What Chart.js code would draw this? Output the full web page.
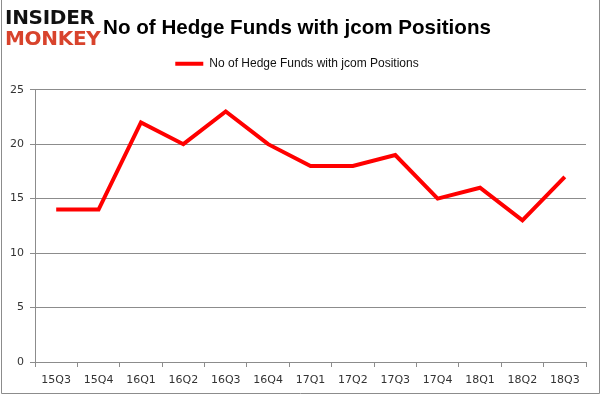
<!DOCTYPE html>
<html>
<head>
<meta charset="utf-8">
<script src="https://cdn.jsdelivr.net/npm/chart.js@4"></script>
<style>
  html, body { margin: 0; padding: 0; background: #fff; }
  #wrap { position: relative; width: 601px; height: 395px; }
  #logo { position: absolute; left: 5px; top: 7px; font-family: "DejaVu Sans", sans-serif; font-weight: 900; line-height: 21px; font-size: 20px; letter-spacing: -0.3px; }
  #logo .a { color: #111; }
  #logo .b { color: #d8432c; }
</style>
</head>
<body>
<div id="wrap">
  <canvas id="chart" width="601" height="395"></canvas>
  <div id="logo"><div class="a">INSIDER</div><div class="b">MONKEY</div></div>
</div>
<script>
const QUARTERS = ['15Q3','15Q4','16Q1','16Q2','16Q3','16Q4','17Q1','17Q2','17Q3','17Q4','18Q1','18Q2','18Q3'];
const FUNDS    = [14, 14, 22, 20, 23, 20, 18, 18, 19, 15, 16, 13, 17];
const Y_TICKS  = [0, 5, 10, 15, 20, 25];
const TITLE    = 'No of Hedge Funds with jcom Positions';

const GRID = '#8c8c8c';
const TICK = '#333';

/* ── frame round the picture, extra room under the legend ── */
const frame = {
  id: 'frame',
  beforeInit(c) {
    const fit = c.legend.fit;
    c.legend.fit = function () { fit.call(this); this.height += 10; };
  },
  afterDraw(c) {
    const ctx = c.ctx;
    ctx.save();
    ctx.strokeStyle = '#8c8c8c';
    ctx.lineWidth = 1;
    ctx.beginPath();
    ctx.moveTo(1.5, 0); ctx.lineTo(1.5, 393.5); ctx.lineTo(599.5, 393.5); ctx.lineTo(599.5, 0);
    ctx.stroke();
    ctx.restore();
  }
};

new Chart(document.getElementById('chart'), {
  type: 'line',
  data: {
    labels: QUARTERS,
    datasets: [{
      label: TITLE,
      data: FUNDS,
      borderColor: '#ff0000',
      backgroundColor: '#ff0000',
      borderWidth: 4,
      pointRadius: 0,
      tension: 0,
      fill: false
    }]
  },
  options: {
    responsive: false,
    animation: false,
    layout: { padding: { left: 8, right: 15, top: 0, bottom: 10 } },
    plugins: {
      title: {
        display: true, text: TITLE, color: '#000',
        font: { family: 'Liberation Sans', size: 20.6, weight: 'bold' },
        padding: { top: 16, bottom: 7 }
      },
      legend: {
        labels: {
          color: '#111', font: { family: 'Liberation Sans', size: 12 },
          usePointStyle: true, pointStyle: 'line', pointStyleWidth: 28, boxWidth: 28, padding: 10
        }
      },
      tooltip: { enabled: false }
    },
    scales: {
      x: {
        offset: true,
        grid: { offset: true, drawOnChartArea: false, color: GRID, tickLength: 5 },
        border: { color: GRID },
        ticks: { color: TICK, font: { family: 'DejaVu Sans', size: 11 }, maxRotation: 0, padding: 7 },
        afterFit: s => { s.height = 23; }
      },
      y: {
        min: 0, max: 25,
        afterBuildTicks: s => { s.ticks = Y_TICKS.map(v => ({ value: v })); },
        grid: { color: GRID, tickLength: 5 },
        border: { color: GRID },
        ticks: { color: TICK, font: { family: 'DejaVu Sans', size: 11 }, padding: 6 },
        afterFit: s => { s.width = 27; }
      }
    }
  },
  plugins: [frame]
});
</script>
</body>
</html>
